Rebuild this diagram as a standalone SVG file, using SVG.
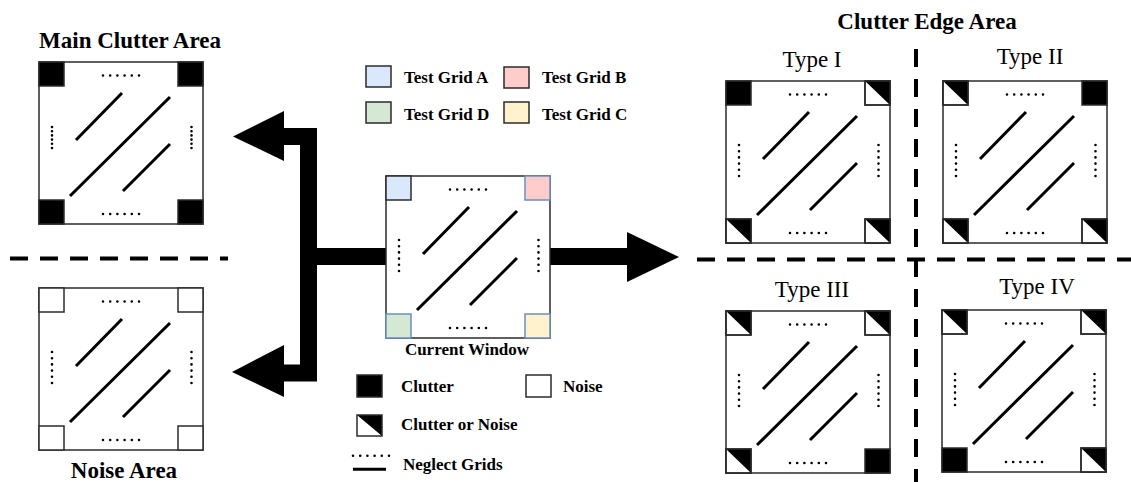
<svg xmlns="http://www.w3.org/2000/svg" xmlns:xlink="http://www.w3.org/1999/xlink" width="1131" height="482" viewBox="0 0 1131 482">
  <style>
    .frame { fill: #ffffff; stroke: #2b2b2b; stroke-width: 1.5; }
    .diag { stroke: #000000; stroke-width: 3; fill: none; }
    .dots { stroke: #000000; stroke-width: 2.6; stroke-linecap: round; fill: none; }
    .dotsH { stroke-dasharray: 0 7.2; }
    .dotsV { stroke-dasharray: 0 6.2; }
    .dotsV2 { stroke-dasharray: 0 4.2; }
    .cell { stroke: #2b2b2b; stroke-width: 1.5; }
    .title { font-family: "Liberation Serif", "Times New Roman", serif; font-weight: bold; font-size: 23px; fill: #000; }
    .type { font-family: "Liberation Serif", "Times New Roman", serif; font-size: 23px; fill: #000; }
    .lbl { font-family: "Liberation Serif", "Times New Roman", serif; font-weight: bold; font-size: 17px; fill: #000; }
    .dash { stroke: #000000; stroke-width: 4; stroke-dasharray: 18 12; fill: none; }
    .pipe { stroke: #000000; stroke-width: 17; fill: none; stroke-linejoin: miter; }
  </style>
  <defs>
    <!-- corner cell states -->
    <g id="clutter"><rect class="cell" x="0" y="0" width="25" height="24" fill="#000000"/></g>
    <g id="noise"><rect class="cell" x="0" y="0" width="25" height="24" fill="#ffffff"/></g>
    <g id="either">
      <rect class="cell" x="0" y="0" width="25" height="24" fill="#ffffff"/>
      <polygon points="0,0 25,0 25,24" fill="#000000"/>
      <rect x="0" y="0" width="25" height="24" fill="none" stroke="#2b2b2b" stroke-width="1.5"/>
    </g>
    <!-- window body: frame, line features, neglected grids -->
    <g id="body">
      <rect class="frame" x="0" y="0" width="164" height="162"/>
      <path class="diag" d="M37,78 L83,31 M31,134 L131,35 M84,129 L131,82"/>
      <path class="dots dotsH" d="M64,13.5 H100.1 M64,152 H100.1"/>
    </g>
    <g id="sides">
      <path class="dots dotsV" d="M13,64 V95.1 M152.5,64 V95.1"/>
    </g>
  </defs>

  <!-- separators -->
  <g id="separators">
    <path class="dash" d="M10,258.5 H228"/>
    <path class="dash" d="M697,259.5 H1131"/>
    <path class="dash" d="M916,49 V482"/>
  </g>

  <!-- connectors -->
  <g id="connectors">
    <path class="pipe" d="M283,136.5 H308.5 V373 H283"/>
    <path class="pipe" d="M308.5,256.5 H387"/>
    <polygon points="284,111 233,136.5 284,161" fill="#000"/>
    <polygon points="284,345 232,372 284,397" fill="#000"/>
    <path class="pipe" d="M549,256.5 H629"/>
    <polygon points="627,232 679,257 627,282" fill="#000"/>
  </g>

  <!-- Main Clutter Area -->
  <g id="main-clutter">
    <text class="title" x="130" y="48" text-anchor="middle">Main Clutter Area</text>
    <g transform="translate(39,62)">
      <use href="#body"/>
      <path class="dots dotsV2" d="M13,65 V86.1 M152.5,65 V86.1"/>
      <use href="#clutter" x="0" y="0"/>
      <use href="#clutter" x="139" y="0"/>
      <use href="#clutter" x="0" y="138"/>
      <use href="#clutter" x="139" y="138"/>
    </g>
  </g>

  <!-- Noise Area -->
  <g id="noise-area">
    <g transform="translate(39,288)">
      <use href="#body"/>
      <use href="#sides"/>
      <use href="#noise" x="0" y="0"/>
      <use href="#noise" x="139" y="0"/>
      <use href="#noise" x="0" y="138"/>
      <use href="#noise" x="139" y="138"/>
    </g>
    <text class="title" x="124" y="478" text-anchor="middle">Noise Area</text>
  </g>

  <!-- Current Window -->
  <g id="current-window">
    <g transform="translate(386,176)">
      <use href="#body"/>
      <use href="#sides"/>
      <rect x="0" y="0" width="25" height="24" fill="#dae8fc" stroke="#2b2b2b" stroke-width="1.5"/>
      <rect x="139" y="0" width="25" height="24" fill="#ffcccc" stroke="#6c8ebf" stroke-width="1.5"/>
      <rect x="0" y="138" width="25" height="24" fill="#d5e8d4" stroke="#6c8ebf" stroke-width="1.5"/>
      <rect x="139" y="138" width="25" height="24" fill="#fff2cc" stroke="#6c8ebf" stroke-width="1.5"/>
    </g>
    <text class="lbl" x="467" y="355" text-anchor="middle">Current Window</text>
  </g>

  <!-- test grid legend -->
  <g id="grid-legend">
    <rect x="366" y="66" width="25" height="21" fill="#dae8fc" stroke="#2b2b2b" stroke-width="1.5"/>
    <text class="lbl" x="404" y="83">Test Grid A</text>
    <rect x="504" y="67" width="25" height="21" fill="#ffcccc" stroke="#2b2b2b" stroke-width="1.5"/>
    <text class="lbl" x="542" y="83">Test Grid B</text>
    <rect x="366" y="102" width="25" height="21" fill="#d5e8d4" stroke="#2b2b2b" stroke-width="1.5"/>
    <text class="lbl" x="404" y="120">Test Grid D</text>
    <rect x="504" y="102" width="25" height="21" fill="#fff2cc" stroke="#2b2b2b" stroke-width="1.5"/>
    <text class="lbl" x="542" y="120">Test Grid C</text>
  </g>

  <!-- state legend -->
  <g id="state-legend">
    <rect x="357" y="375" width="25" height="22" fill="#000" stroke="#2b2b2b" stroke-width="1.5"/>
    <text class="lbl" x="401" y="392">Clutter</text>
    <rect x="526" y="375" width="25" height="22" fill="#fff" stroke="#2b2b2b" stroke-width="1.5"/>
    <text class="lbl" x="563" y="392">Noise</text>
    <g transform="translate(357,415)">
      <rect x="0" y="0" width="25" height="21" fill="#fff"/>
      <polygon points="0,0 25,0 25,21" fill="#000"/>
      <rect x="0" y="0" width="25" height="21" fill="none" stroke="#2b2b2b" stroke-width="1.5"/>
    </g>
    <text class="lbl" x="401" y="430">Clutter or Noise</text>
    <path class="dots dotsH" d="M353,455.7 H389.1"/>
    <path d="M353,469.3 H386" stroke="#000" stroke-width="3"/>
    <text class="lbl" x="403" y="470">Neglect Grids</text>
  </g>

  <!-- Clutter Edge Area -->
  <text class="title" x="927" y="29" text-anchor="middle">Clutter Edge Area</text>

  <g id="type-1">
    <text class="type" x="812" y="67" text-anchor="middle">Type I</text>
    <g transform="translate(726,81)">
      <use href="#body"/>
      <use href="#sides"/>
      <use href="#clutter" x="0" y="0"/>
      <use href="#either" x="139" y="0"/>
      <use href="#either" x="0" y="138"/>
      <use href="#either" x="139" y="138"/>
    </g>
  </g>

  <g id="type-2">
    <text class="type" x="1030" y="64" text-anchor="middle">Type II</text>
    <g transform="translate(943,81)">
      <use href="#body"/>
      <use href="#sides"/>
      <use href="#either" x="0" y="0"/>
      <use href="#clutter" x="139" y="0"/>
      <use href="#either" x="0" y="138"/>
      <use href="#either" x="139" y="138"/>
    </g>
  </g>

  <g id="type-3">
    <text class="type" x="812" y="297" text-anchor="middle">Type III</text>
    <g transform="translate(726,311)">
      <use href="#body"/>
      <use href="#sides"/>
      <use href="#either" x="0" y="0"/>
      <use href="#either" x="139" y="0"/>
      <use href="#either" x="0" y="138"/>
      <use href="#clutter" x="139" y="138"/>
    </g>
  </g>

  <g id="type-4">
    <text class="type" x="1037" y="294" text-anchor="middle">Type IV</text>
    <g transform="translate(942,310)">
      <use href="#body"/>
      <use href="#sides"/>
      <use href="#either" x="0" y="0"/>
      <use href="#either" x="139" y="0"/>
      <use href="#clutter" x="0" y="138"/>
      <use href="#either" x="139" y="138"/>
    </g>
  </g>
</svg>
